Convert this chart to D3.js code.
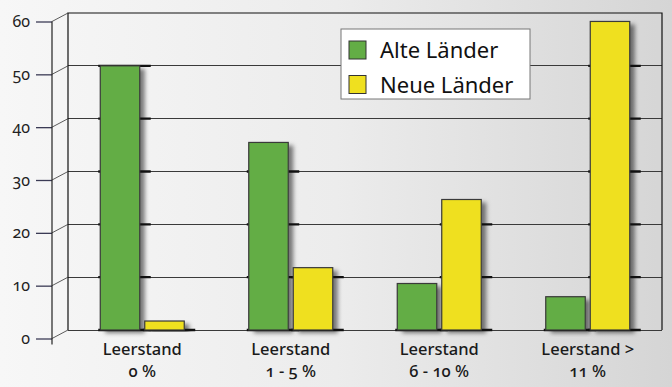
<!DOCTYPE html>
<html>
<head>
<meta charset="utf-8">
<script src="https://cdn.jsdelivr.net/npm/d3@7"></script>
<style>
  html, body { margin: 0; padding: 0; background: #eeeeee; }
  svg { display: block; font-family: "Noto Sans", "Open Sans", sans-serif; font-feature-settings: "onum" 1; }
</style>
</head>
<body>
<svg id="chart" width="672" height="387"></svg>
<script>
// ---- data ----
const categories = [["Leerstand", "0 %"], ["Leerstand", "1 - 5 %"], ["Leerstand", "6 - 10 %"], ["Leerstand >", "11 %"]];
const seriesNames = ["Alte Länder", "Neue Länder"];
const alteLaender = [50.0, 35.5, 8.8, 6.3];
const neueLaender = [1.7, 11.8, 24.7, 58.4];
const yTicks = [0, 10, 20, 30, 40, 50, 60];
const colors = ["#63ad45", "#efe01f"];

// ---- layout ----
const W = 672, H = 387;
const wall = { x0: 68, x1: 662, y0: 13, y1: 330 };
const depth = { dx: -16, dy: 8.5 };

const svg = d3.select("#chart");
const defs = svg.append("defs");

const bg = defs.append("linearGradient").attr("id", "bg").attr("x1", "0").attr("x2", "1").attr("y1", "0").attr("y2", "0");
bg.append("stop").attr("offset", "0").attr("stop-color", "#f7f7f7");
bg.append("stop").attr("offset", "0.5").attr("stop-color", "#ececec");
bg.append("stop").attr("offset", "1").attr("stop-color", "#d5d5d5");

const sh = defs.append("filter").attr("id", "shadow").attr("x", "-20%").attr("y", "-10%").attr("width", "160%").attr("height", "130%");
sh.append("feDropShadow").attr("dx", 5).attr("dy", 3).attr("stdDeviation", 2.2)
  .attr("flood-color", "#000").attr("flood-opacity", 0.5);

svg.append("rect").attr("width", W).attr("height", H).attr("fill", "url(#bg)");

const x0 = d3.scaleBand().domain(d3.range(categories.length)).range([wall.x0, wall.x1]).paddingInner(0).paddingOuter(0);
const y = d3.scaleLinear().domain([0, 60]).range([wall.y1, wall.y0]);
const bandW = x0.bandwidth();
const barW = 39.5, gap = 5;

// gridlines on back wall
svg.append("g").selectAll("line").data(yTicks.slice(0, -1)).join("line")
  .attr("x1", wall.x0).attr("x2", wall.x1)
  .attr("y1", d => y(d)).attr("y2", d => y(d))
  .attr("stroke", "#3a3a3a").attr("stroke-width", 1).attr("shape-rendering", "crispEdges");

// wall frame
svg.append("path")
  .attr("d", `M${wall.x0},${wall.y1} L${wall.x0},${wall.y0} L${wall.x1},${wall.y0} L${wall.x1},${wall.y1}`)
  .attr("fill", "none").attr("stroke", "#111").attr("stroke-width", 1.2);

// diagonals from front axis to wall
svg.append("g").selectAll("line").data(yTicks).join("line")
  .attr("x1", wall.x0 + depth.dx).attr("y1", d => y(d) + depth.dy)
  .attr("x2", wall.x0).attr("y2", d => y(d))
  .attr("stroke", "#333").attr("stroke-width", 0.8);

// front y axis
const yFront = d3.scaleLinear().domain([0, 60]).range([wall.y1 + depth.dy, wall.y0 + depth.dy]);
const axis = svg.append("g").attr("transform", `translate(${wall.x0 + depth.dx},0)`)
  .call(d3.axisLeft(yFront).tickValues(yTicks).tickSize(16).tickPadding(6).tickSizeOuter(0));
axis.select(".domain").remove();
axis.append("line").attr("x1", 0).attr("x2", 0).attr("y1", yFront(60)).attr("y2", yFront(0) + 6)
  .attr("stroke", "#222").attr("stroke-width", 1.2);
axis.selectAll(".tick line").attr("stroke", "#3b3b55").attr("stroke-width", 1.3);
axis.selectAll(".tick text").attr("font-size", 16).attr("fill", "#222")
  .attr("font-family", "'Noto Sans', sans-serif");

// bars
const series = [alteLaender, neueLaender];
const bars = [];
categories.forEach((c, i) => {
  series.forEach((s, j) => {
    const cx = x0(i) + bandW / 2;
    const bx = j === 0 ? cx - gap / 2 - barW : cx + gap / 2;
    bars.push({ i, j, v: s[i], x: bx });
  });
});

const barG = svg.append("g");
bars.forEach(b => {
  // shadow
  barG.append("rect").attr("x", b.x).attr("y", y(b.v)).attr("width", barW).attr("height", y(0) - y(b.v))
    .attr("fill", "#888").attr("filter", "url(#shadow)");
  // thick gridline pieces behind
  yTicks.filter(t => t <= b.v + 0.5).forEach(t => {
    barG.append("line").attr("x1", b.x - 2).attr("x2", b.x + barW + 11)
      .attr("y1", y(t)).attr("y2", y(t)).attr("stroke", "#111").attr("stroke-width", 2.4);
  });
});
barG.selectAll("rect.bar").data(bars).join("rect").attr("class", "bar")
  .attr("x", d => d.x).attr("y", d => y(d.v))
  .attr("width", barW).attr("height", d => y(0) - y(d.v))
  .attr("fill", d => colors[d.j]).attr("stroke", "#3a3a3a").attr("stroke-width", 1.2);

// category labels
const lab = svg.append("g").selectAll("text").data(categories).join("text")
  .attr("x", (d, i) => x0(i) + bandW / 2)
  .attr("text-anchor", "middle").attr("font-size", 16.5).attr("font-weight", 500).attr("fill", "#1a1a1a");
lab.append("tspan").attr("x", (d, i) => x0(i) + bandW / 2).attr("y", 355).text(d => d[0]);
lab.append("tspan").attr("x", (d, i) => x0(i) + bandW / 2).attr("y", 377).text(d => d[1]);

// legend
const lg = svg.append("g");
lg.append("rect").attr("x", 341).attr("y", 29).attr("width", 189).attr("height", 70)
  .attr("fill", "#fff").attr("stroke", "#777").attr("stroke-width", 1);
seriesNames.forEach((n, j) => {
  const ly = 41 + j * 34.5;
  lg.append("rect").attr("x", 349).attr("y", ly).attr("width", 17).attr("height", 18)
    .attr("fill", colors[j]).attr("stroke", "#333").attr("stroke-width", 1);
  lg.append("text").attr("x", 380).attr("y", ly + 17).attr("font-size", 22).attr("fill", "#111").text(n);
});
</script>
</body>
</html>
